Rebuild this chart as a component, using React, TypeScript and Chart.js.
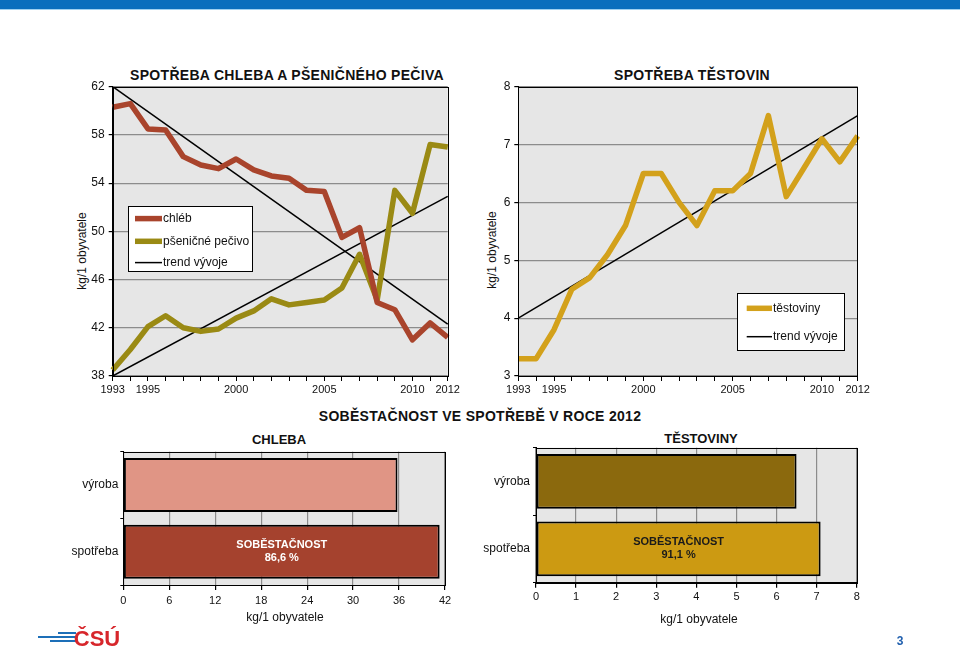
import React, { useEffect, useRef } from "react";
import { Chart, registerables } from "chart.js";

Chart.register(...registerables);

const FONT = '"Liberation Sans", Arial, Helvetica, sans-serif';
Chart.defaults.font.family = FONT;
Chart.defaults.color = "#111";

// ---------- DATA ----------
const years = ["1993", "1994", "1995", "1996", "1997", "1998", "1999", "2000", "2001", "2002", "2003", "2004", "2005", "2006", "2007", "2008", "2009", "2010", "2011", "2012"];
const shownYears = ["1993", "1995", "2000", "2005", "2010", "2012"];

const chlebValues = [60.3, 60.6, 58.5, 58.4, 56.2, 55.5, 55.2, 56.0, 55.1, 54.6, 54.4, 53.4, 53.3, 49.5, 50.3, 44.1, 43.5, 41.0, 42.4, 41.2];
const pecivoValues = [38.5, 40.2, 42.1, 43.0, 42.0, 41.7, 41.9, 42.8, 43.4, 44.4, 43.9, 44.1, 44.3, 45.3, 48.1, 44.3, 53.4, 51.5, 57.2, 57.0];
const chlebTrendEnds = [62.0, 42.3];
const pecivoTrendEnds = [38.0, 52.9];

const testovinyValues = [3.3, 3.3, 3.8, 4.5, 4.7, 5.1, 5.6, 6.5, 6.5, 6.0, 5.6, 6.2, 6.2, 6.5, 7.5, 6.1, 6.6, 7.1, 6.7, 7.15];
const testovinyTrendEnds = [4.0, 7.5];

const barCategories = ["výroba", "spotřeba"];
const chlebaBars = [35.8, 41.3];
const testovinyBars = [6.5, 7.1];
const chlebaSelf = ["SOBĚSTAČNOST", "86,6 %"];
const testovinySelf = ["SOBĚSTAČNOST", "91,1 %"];

// ---------- helpers ----------
const trendSeries = (ends: number[]) => years.map((_, i) => (i === 0 ? ends[0] : i === years.length - 1 ? ends[1] : null));

const GRID = "#8c8c8c";
const BG = "#e6e6e6";

const noPad = (s: any) => {
  s.paddingTop = 0;
  s.paddingBottom = 0;
  s.paddingLeft = 0;
  s.paddingRight = 0;
};

const framePlugin = {
  id: "frame",
  beforeDraw(chart: any) {
    const { ctx, chartArea: a } = chart;
    ctx.save();
    ctx.fillStyle = BG;
    ctx.fillRect(a.left, a.top, a.right - a.left, a.bottom - a.top);
    ctx.restore();
  },
  afterDraw(chart: any) {
    const { ctx, chartArea: a } = chart;
    ctx.save();
    ctx.strokeStyle = "#000";
    ctx.lineWidth = 1;
    ctx.strokeRect(Math.round(a.left) + 0.5, Math.round(a.top) + 0.5, Math.round(a.right - a.left), Math.round(a.bottom - a.top));
    ctx.restore();
  },
};

function makeLegend(cfg: { x: number; y: number; w: number; h: number; lineX0: number; lineX1: number; textX: number; rows: { ds: number; dy: number }[] }) {
  return {
    id: "boxLegend",
    afterDraw(chart: any) {
      const { ctx, chartArea: a } = chart;
      const bx = Math.round(a.left + cfg.x);
      const by = Math.round(a.top + cfg.y);
      ctx.save();
      ctx.fillStyle = "#fff";
      ctx.fillRect(bx, by, cfg.w, cfg.h);
      ctx.strokeStyle = "#000";
      ctx.lineWidth = 1;
      ctx.strokeRect(bx + 0.5, by + 0.5, cfg.w, cfg.h);
      ctx.font = `12px ${FONT}`;
      ctx.textBaseline = "middle";
      ctx.textAlign = "left";
      cfg.rows.forEach((r) => {
        const ds = chart.data.datasets[r.ds];
        ctx.beginPath();
        ctx.strokeStyle = ds.borderColor;
        ctx.lineWidth = ds.borderWidth;
        ctx.lineCap = "butt";
        ctx.moveTo(bx + cfg.lineX0, by + r.dy);
        ctx.lineTo(bx + cfg.lineX1, by + r.dy);
        ctx.stroke();
        ctx.fillStyle = "#111";
        ctx.fillText(ds.label, bx + cfg.textX, by + r.dy);
      });
      ctx.restore();
    },
  };
}

function makeBarLabel(lines: string[], color: string) {
  return {
    id: "barLabel",
    afterDatasetsDraw(chart: any) {
      const meta = chart.getDatasetMeta(0);
      const el = meta.data[1];
      if (!el) return;
      const cx = (el.x + el.base) / 2;
      const cy = el.y;
      const { ctx } = chart;
      ctx.save();
      ctx.font = `bold 11px ${FONT}`;
      ctx.fillStyle = color;
      ctx.textAlign = "center";
      ctx.textBaseline = "middle";
      ctx.fillText(lines[0], cx, cy - 6.5);
      ctx.fillText(lines[1], cx, cy + 6.5);
      ctx.restore();
    },
  };
}

function ChartCanvas({ left, top, width, height, config }: any) {
  const ref = useRef<HTMLCanvasElement | null>(null);
  useEffect(() => {
    if (!ref.current) return;
    const chart = new Chart(ref.current, config());
    return () => chart.destroy();
  }, []);
  return (
    <canvas
      ref={ref}
      width={width}
      height={height}
      style={{ position: "absolute", left, top, width, height, display: "block" }}
    />
  );
}

function lineConfig(opts: {
  datasets: any[];
  min: number;
  max: number;
  step: number;
  yWidth: number;
  padRight: number;
  padTop: number;
  xHeight: number;
  legend: any;
}) {
  return () => ({
    type: "line",
    data: { labels: years, datasets: opts.datasets },
    options: {
      responsive: false,
      animation: false,
      events: [],
      layout: { padding: { left: 0, top: opts.padTop, right: opts.padRight, bottom: 0 } },
      plugins: { legend: { display: false }, tooltip: { enabled: false }, title: { display: false } },
      elements: { point: { radius: 0 }, line: { tension: 0 } },
      scales: {
        x: {
          type: "category",
          offset: false,
          grid: { drawOnChartArea: false, drawTicks: true, tickLength: 5, tickColor: "#000", tickWidth: 1 },
          border: { color: "#000", width: 1 },
          ticks: {
            autoSkip: false,
            maxRotation: 0,
            minRotation: 0,
            padding: 2,
            font: { size: 11 },
            color: "#111",
            callback: (_v: any, i: number) => (shownYears.includes(years[i]) ? years[i] : ""),
          },
          afterFit: (s: any) => {
            s.height = opts.xHeight;
            noPad(s);
          },
        },
        y: {
          min: opts.min,
          max: opts.max,
          grid: { color: GRID, lineWidth: 1.2, tickLength: 4, tickColor: "#000" },
          border: { color: "#000", width: 1 },
          ticks: { stepSize: opts.step, padding: 4, font: { size: 12 }, color: "#111" },
          afterFit: (s: any) => {
            s.width = opts.yWidth;
            noPad(s);
          },
        },
      },
    },
    plugins: [framePlugin, makeLegend(opts.legend)],
  });
}

function barConfig(opts: {
  values: number[];
  colors: string[];
  max: number;
  step: number;
  yWidth: number;
  padRight: number;
  padTop: number;
  xHeight: number;
  tickPad: number;
  yPad: number;
  label: string[];
  labelColor: string;
}) {
  return () => ({
    type: "bar",
    data: {
      labels: barCategories,
      datasets: [
        {
          data: opts.values,
          backgroundColor: opts.colors,
          borderColor: "#000",
          borderWidth: 2,
          borderSkipped: false,
          barPercentage: 0.81,
          categoryPercentage: 1,
        },
      ],
    },
    options: {
      indexAxis: "y",
      responsive: false,
      animation: false,
      events: [],
      layout: { padding: { left: 0, top: opts.padTop, right: opts.padRight, bottom: 0 } },
      plugins: { legend: { display: false }, tooltip: { enabled: false }, title: { display: false } },
      scales: {
        x: {
          type: "linear",
          min: 0,
          max: opts.max,
          grid: { color: GRID, lineWidth: 1.2, tickLength: 5, tickColor: "#000" },
          border: { color: "#000", width: 1 },
          ticks: { stepSize: opts.step, padding: opts.tickPad, font: { size: 11 }, color: "#111", maxRotation: 0 },
          afterFit: (s: any) => {
            s.height = opts.xHeight;
            noPad(s);
          },
        },
        y: {
          type: "category",
          grid: { drawOnChartArea: false, offset: true, tickLength: 3, tickColor: "#000" },
          border: { color: "#000", width: 1 },
          ticks: { padding: opts.yPad, font: { size: 12 }, color: "#111" },
          afterFit: (s: any) => {
            s.width = opts.yWidth;
            noPad(s);
          },
        },
      },
    },
    plugins: [framePlugin, makeBarLabel(opts.label, opts.labelColor)],
  });
}

function Txt({ x, y, children, size = 12, bold = false, color = "#111", rotate = false, spacing = 0 }: any) {
  return (
    <div
      style={{
        position: "absolute",
        left: x,
        top: y,
        transform: `translate(-50%, -50%)${rotate ? " rotate(-90deg)" : ""}`,
        whiteSpace: "nowrap",
        fontFamily: FONT,
        fontSize: size,
        fontWeight: bold ? "bold" : "normal",
        color,
        lineHeight: 1,
        letterSpacing: spacing,
      }}
    >
      {children}
    </div>
  );
}

export default function App() {
  const chart1 = lineConfig({
    datasets: [
      { label: "chléb", data: chlebValues, borderColor: "#a9442c", borderWidth: 5.5, borderJoinStyle: "round", fill: false },
      { label: "pšeničné pečivo", data: pecivoValues, borderColor: "#9a8a14", borderWidth: 5.5, borderJoinStyle: "round", fill: false },
      { label: "trend vývoje", data: trendSeries(chlebTrendEnds), borderColor: "#000", borderWidth: 1.5, spanGaps: true, fill: false },
      { label: "trend vývoje ", data: trendSeries(pecivoTrendEnds), borderColor: "#000", borderWidth: 1.5, spanGaps: true, fill: false },
    ],
    min: 38,
    max: 62,
    step: 4,
    yWidth: 52.7,
    padRight: 22.3,
    padTop: 6.7,
    xHeight: 24,
    legend: {
      x: 15.3,
      y: 119,
      w: 124,
      h: 65,
      lineX0: 7,
      lineX1: 34,
      textX: 35,
      rows: [
        { ds: 0, dy: 12.6 },
        { ds: 1, dy: 35.3 },
        { ds: 2, dy: 56.6 },
      ],
    },
  });

  const chart2 = lineConfig({
    datasets: [
      { label: "těstoviny", data: testovinyValues, borderColor: "#d3a11b", borderWidth: 5.5, borderJoinStyle: "round", fill: false },
      { label: "trend vývoje", data: trendSeries(testovinyTrendEnds), borderColor: "#000", borderWidth: 1.5, spanGaps: true, fill: false },
    ],
    min: 3,
    max: 8,
    step: 1,
    yWidth: 48.3,
    padRight: 22.3,
    padTop: 6.7,
    xHeight: 24,
    legend: {
      x: 218.7,
      y: 206.3,
      w: 107,
      h: 57,
      lineX0: 9.7,
      lineX1: 35,
      textX: 36,
      rows: [
        { ds: 0, dy: 15.3 },
        { ds: 1, dy: 43.7 },
      ],
    },
  });

  const chart3 = barConfig({
    values: chlebaBars,
    colors: ["#e09585", "#a5422e"],
    max: 42,
    step: 6,
    yWidth: 63.3,
    padRight: 15,
    padTop: 6.7,
    xHeight: 30,
    tickPad: 4,
    yPad: 2,
    label: chlebaSelf,
    labelColor: "#ffffff",
  });

  const chart4 = barConfig({
    values: testovinyBars,
    colors: ["#8b690d", "#cc9a12"],
    max: 8,
    step: 1,
    yWidth: 66,
    padRight: 23.3,
    padTop: 7.7,
    xHeight: 27.3,
    tickPad: 2.4,
    yPad: 3,
    label: testovinySelf,
    labelColor: "#1a1a1a",
  });

  return (
    <div style={{ position: "absolute", left: 0, top: 0, width: 960, height: 653, background: "#fff", overflow: "hidden" }}>
      <div style={{ position: "absolute", left: 0, top: 0, width: 960, height: 9, background: "#0a6ebd" }} />
      <div style={{ position: "absolute", left: 0, top: 9, width: 960, height: 1, background: "#9fd0f0" }} />

      <Txt x={287} y={75} size={14} bold spacing={0.3}>SPOTŘEBA CHLEBA A PŠENIČNÉHO PEČIVA</Txt>
      <Txt x={692} y={75} size={14} bold spacing={0.3}>SPOTŘEBA TĚSTOVIN</Txt>
      <Txt x={82} y={251} rotate>kg/1 obyvatele</Txt>
      <Txt x={492} y={250} rotate>kg/1 obyvatele</Txt>

      <ChartCanvas left={60} top={80} width={410} height={320} config={chart1} />
      <ChartCanvas left={470} top={80} width={410} height={320} config={chart2} />

      <Txt x={480} y={416} size={14} bold spacing={0.3}>SOBĚSTAČNOST VE SPOTŘEBĚ V ROCE 2012</Txt>
      <Txt x={279} y={439} size={13} bold>CHLEBA</Txt>
      <Txt x={701} y={437.5} size={13} bold>TĚSTOVINY</Txt>

      <ChartCanvas left={60} top={445} width={400} height={170} config={chart3} />
      <ChartCanvas left={470} top={440} width={410} height={170} config={chart4} />

      <Txt x={285} y={617}>kg/1 obyvatele</Txt>
      <Txt x={699} y={619}>kg/1 obyvatele</Txt>

      <div style={{ position: "absolute", left: 58, top: 632, width: 18, height: 2, background: "#1d6fb8" }} />
      <div style={{ position: "absolute", left: 38, top: 635.5, width: 38, height: 2.5, background: "#1d6fb8" }} />
      <div style={{ position: "absolute", left: 50, top: 639.5, width: 26, height: 2, background: "#1d6fb8" }} />
      <Txt x={97} y={639} size={22} bold color="#d7262b">ČSÚ</Txt>
      <Txt x={900} y={641} size={12} bold color="#1f5fae">3</Txt>
    </div>
  );
}
